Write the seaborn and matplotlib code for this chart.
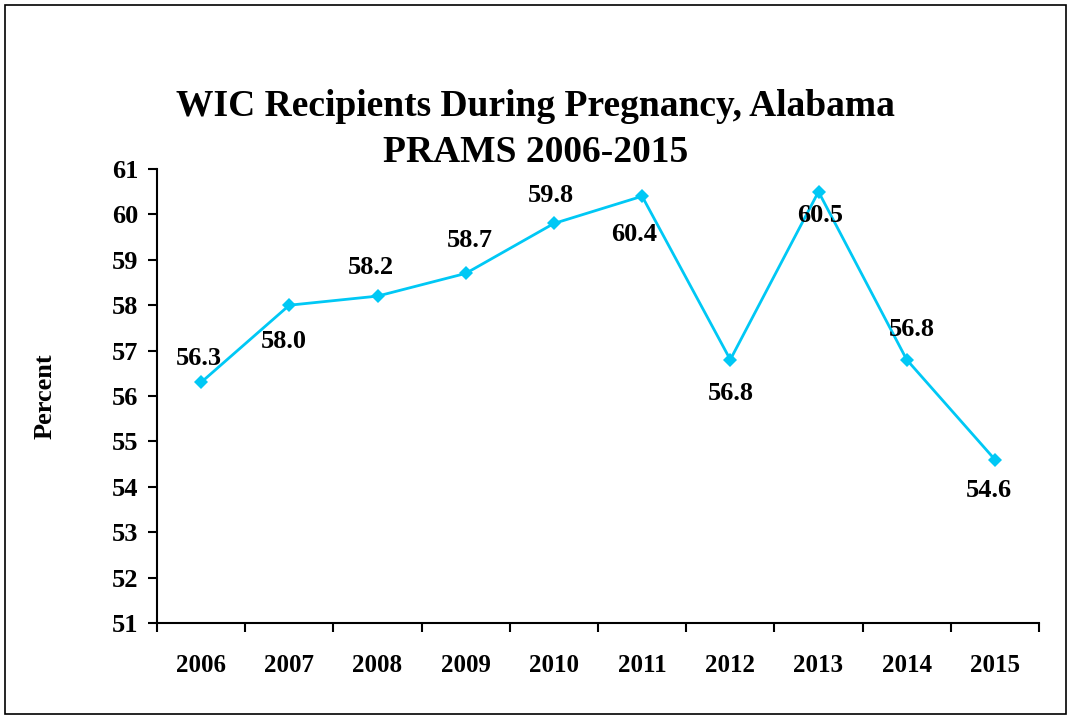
import numpy as np
import pandas as pd
import matplotlib.pyplot as plt
import seaborn as sns
from matplotlib.patches import Rectangle

years = ["2006", "2007", "2008", "2009", "2010", "2011", "2012", "2013", "2014", "2015"]
percent = [56.3, 58.0, 58.2, 58.7, 59.8, 60.4, 56.8, 60.5, 56.8, 54.6]
# label offsets (points) relative to each marker
label_dx = [-1.5, -4, -5, 3, -2, -6, 0.5, 1.5, 3.5, -4.5]
label_dy = [17, -26, 20.5, 24, 20.5, -27.5, -24, -17, 22, -22.5]

sns.set_style("white")
plt.rcParams["font.family"] = ["Liberation Serif", "DejaVu Serif"]
plt.rcParams["font.weight"] = "bold"
plt.rcParams["text.color"] = "black"
plt.rcParams["axes.labelcolor"] = "black"
plt.rcParams["xtick.color"] = "black"
plt.rcParams["ytick.color"] = "black"

df = pd.DataFrame({"pos": np.arange(len(years)), "percent": percent})

fig = plt.figure(figsize=(10.71, 7.19), dpi=100)
ax = fig.add_axes([157 / 1071, 1 - 623 / 719, 882 / 1071, 454 / 719])

sns.lineplot(data=df, x="pos", y="percent", ax=ax, color="#00C8F5",
             marker="D", markersize=7.5, markeredgewidth=0, linewidth=2)

for i, v in enumerate(percent):
    ax.annotate(f"{v:.1f}", (i, v), xytext=(label_dx[i], label_dy[i]),
                textcoords="offset points", ha="center", va="center",
                fontsize=19, fontweight="bold", color="black")

ax.set_xlim(-0.5, len(years) - 0.5)
ax.set_ylim(51, 61)
ax.set_yticks(range(51, 62))
ax.set_xticks(np.arange(-0.5, len(years), 1.0))
ax.set_xticklabels([])
ax.set_xticks(np.arange(len(years)), minor=True)
ax.set_xticklabels(years, minor=True)
ax.tick_params(axis="x", which="minor", bottom=True, length=0, pad=22, labelsize=18)
ax.tick_params(axis="x", which="major", bottom=True, direction="out", length=6.5, width=1.5)
ax.tick_params(axis="y", left=True, direction="out", length=6.5, width=1.5, labelsize=19, pad=7)
for lab in ax.get_yticklabels() + ax.get_xticklabels(minor=True):
    lab.set_fontweight("bold")

sns.despine(ax=ax)
ax.spines["left"].set_linewidth(1.5)
ax.spines["bottom"].set_linewidth(1.5)
ax.spines["left"].set_color("black")
ax.spines["bottom"].set_color("black")

ax.set_xlabel("")
ax.set_ylabel("Percent", fontsize=19, fontweight="bold", labelpad=40)

fig.text(0.5, 1 - 106 / 719, "WIC Recipients During Pregnancy, Alabama",
         ha="center", va="center", fontsize=27, fontweight="bold")
fig.text(0.5, 1 - 153 / 719, "PRAMS 2006-2015",
         ha="center", va="center", fontsize=27, fontweight="bold")

fig.patches.append(Rectangle((5 / 1071, 5 / 719), 1061 / 1071, 709 / 719,
                             transform=fig.transFigure, fill=False,
                             edgecolor="black", linewidth=1.2))

fig.savefig("out.png", dpi=100)
